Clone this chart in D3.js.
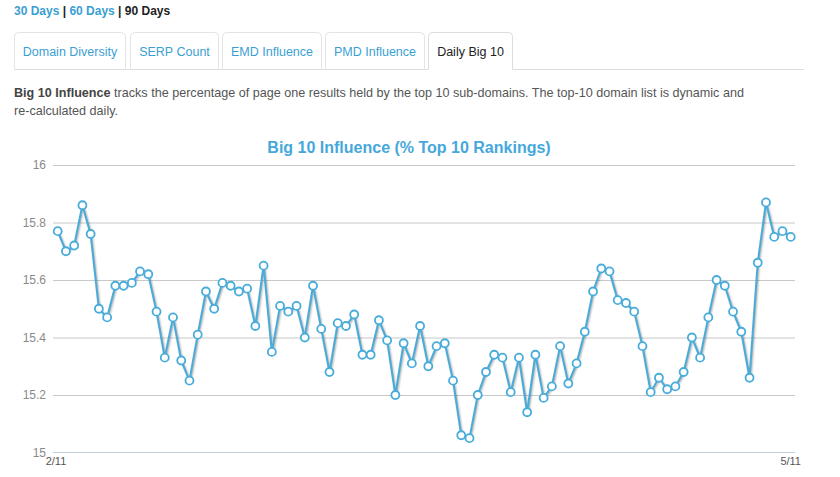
<!DOCTYPE html>
<html>
<head>
<meta charset="utf-8">
<script src="https://cdn.jsdelivr.net/npm/d3@7/dist/d3.min.js"></script>
<style>
  html, body { margin: 0; padding: 0; background: #fff; }
  svg { display: block; font-family: "Liberation Sans", Arial, sans-serif; }
</style>
</head>
<body>
<svg id="chart" width="840" height="477"></svg>
<script>
// ---- data ----
const rangeLinks = ["30 Days", "60 Days", "90 Days"];
const tabLabels = ["Domain Diversity", "SERP Count", "EMD Influence", "PMD Influence", "Daily Big 10"];
const chartTitle = "Big 10 Influence (% Top 10 Rankings)";
const xTickLabels = ["2/11", "5/11"];
const yTicks = [15, 15.2, 15.4, 15.6, 15.8, 16];
const big10Values = [
  15.77, 15.70, 15.72, 15.86, 15.76, 15.50, 15.47, 15.58, 15.58, 15.59,
  15.63, 15.62, 15.49, 15.33, 15.47, 15.32, 15.25, 15.41, 15.56, 15.50,
  15.59, 15.58, 15.56, 15.57, 15.44, 15.65, 15.35, 15.51, 15.49, 15.51,
  15.40, 15.58, 15.43, 15.28, 15.45, 15.44, 15.48, 15.34, 15.34, 15.46,
  15.39, 15.20, 15.38, 15.31, 15.44, 15.30, 15.37, 15.38, 15.25, 15.06,
  15.05, 15.20, 15.28, 15.34, 15.33, 15.21, 15.33, 15.14, 15.34, 15.19,
  15.23, 15.37, 15.24, 15.31, 15.42, 15.56, 15.64, 15.63, 15.53, 15.52,
  15.49, 15.37, 15.21, 15.26, 15.22, 15.23, 15.28, 15.40, 15.33, 15.47,
  15.60, 15.58, 15.49, 15.42, 15.26, 15.66, 15.87, 15.75, 15.77, 15.75
];

// ---- styles ----
const linkColor = "#3a9fd3";
const seriesColor = "#48acdb";
const svg = d3.select("#chart");

// ---- range links ----
const rl = svg.append("text").attr("x", 14).attr("y", 15)
  .style("font-size", "12px").style("font-weight", "bold");
rangeLinks.forEach((t, i) => {
  rl.append("tspan").text(t).attr("fill", i === 2 ? "#222" : linkColor);
  if (i < rangeLinks.length - 1) rl.append("tspan").text(" | ").attr("fill", "#222");
});

// ---- tabs ----
const tabX = [14, 130, 222, 325, 428];
const tabW = [111, 88, 99, 99, 84];
const tabTop = 32.5, tabBottom = 69.5;
svg.append("line").attr("x1", 14).attr("x2", 804).attr("y1", tabBottom).attr("y2", tabBottom)
  .attr("stroke", "#ddd").attr("stroke-width", 1);
tabLabels.forEach((t, i) => {
  const x0 = tabX[i] + 0.5, x1 = tabX[i] + tabW[i] + 0.5, r = 4;
  const active = i === tabLabels.length - 1;
  const p = `M${x0},${tabBottom} L${x0},${tabTop + r} Q${x0},${tabTop} ${x0 + r},${tabTop} L${x1 - r},${tabTop} Q${x1},${tabTop} ${x1},${tabTop + r} L${x1},${tabBottom}`;
  if (active) {
    svg.append("rect").attr("x", x0).attr("y", tabTop).attr("width", x1 - x0).attr("height", tabBottom - tabTop + 1)
      .attr("fill", "#fff");
  }
  svg.append("path").attr("d", p).attr("fill", "none").attr("stroke", active ? "#ddd" : "#e4e4e4");
  svg.append("text").attr("x", (x0 + x1) / 2).attr("y", 56).attr("text-anchor", "middle")
    .style("font-size", "12.5px").attr("fill", active ? "#222" : linkColor).text(t);
});

// ---- description ----
const d1 = svg.append("text").attr("x", 14).attr("y", 97).style("font-size", "12.6px").attr("fill", "#555");
d1.append("tspan").text("Big 10 Influence").style("font-weight", "bold").attr("fill", "#444");
d1.append("tspan").text(" tracks the percentage of page one results held by the top 10 sub-domains. The top-10 domain list is dynamic and");
svg.append("text").attr("x", 14).attr("y", 115).style("font-size", "12.6px").attr("fill", "#555")
  .text("re-calculated daily.");

// ---- chart ----
svg.append("text").attr("x", 409).attr("y", 153).attr("text-anchor", "middle")
  .style("font-size", "16px").style("font-weight", "bold").attr("fill", "#45a8dc").text(chartTitle);

const plotLeft = 53, plotRight = 795;
const y = d3.scaleLinear().domain([15, 16]).range([452.5, 165]);
const x = d3.scaleLinear().domain([0, big10Values.length - 1]).range([57.7, 790.7]);

const yAxis = d3.axisLeft(y).tickValues(yTicks)
  .tickFormat(d => d3.format("")(+d.toFixed(1)))
  .tickSize(-(plotRight - plotLeft)).tickPadding(7);
const gy = svg.append("g").attr("transform", `translate(${plotLeft},0)`).call(yAxis);
gy.select(".domain").remove();
gy.selectAll(".tick line").attr("stroke", (d) => d === 15 ? "none" : "#c8c8c8").attr("stroke-width", 1);
gy.selectAll(".tick text").attr("fill", "#8a8a8a").style("font-size", "12px")
  .style("font-family", "'Liberation Sans', Arial, sans-serif");

// x axis line
svg.append("line").attr("x1", plotLeft).attr("x2", plotRight).attr("y1", 452.5).attr("y2", 452.5)
  .attr("stroke", "#c0d0e0").attr("stroke-width", 1);
const xLabelIdx = [0, big10Values.length - 1];
xTickLabels.forEach((t, i) => {
  svg.append("text").attr("x", x(xLabelIdx[i])).attr("y", 465)
    .attr("text-anchor", i === 0 ? "start" : "middle")
    .attr("dx", i === 0 ? -12 : 0)
    .style("font-size", "11px").attr("fill", "#555").text(t);
});

// line with shadow
const line = d3.line().x((d, i) => x(i)).y(d => y(d));
[[5, 0.05], [3, 0.1], [1, 0.15]].forEach(([w, o]) => {
  svg.append("path").datum(big10Values).attr("d", line)
    .attr("transform", "translate(1,1)")
    .attr("fill", "none").attr("stroke", "#000").attr("stroke-opacity", o).attr("stroke-width", w)
    .attr("stroke-linejoin", "round");
});
svg.append("path").datum(big10Values).attr("d", line)
  .attr("fill", "none").attr("stroke", seriesColor).attr("stroke-width", 2).attr("stroke-linejoin", "round");

svg.append("g").selectAll("circle").data(big10Values).join("circle")
  .attr("cx", (d, i) => x(i)).attr("cy", d => y(d)).attr("r", 4)
  .attr("fill", "#fff").attr("stroke", seriesColor).attr("stroke-width", 1.8);
</script>
</body>
</html>
